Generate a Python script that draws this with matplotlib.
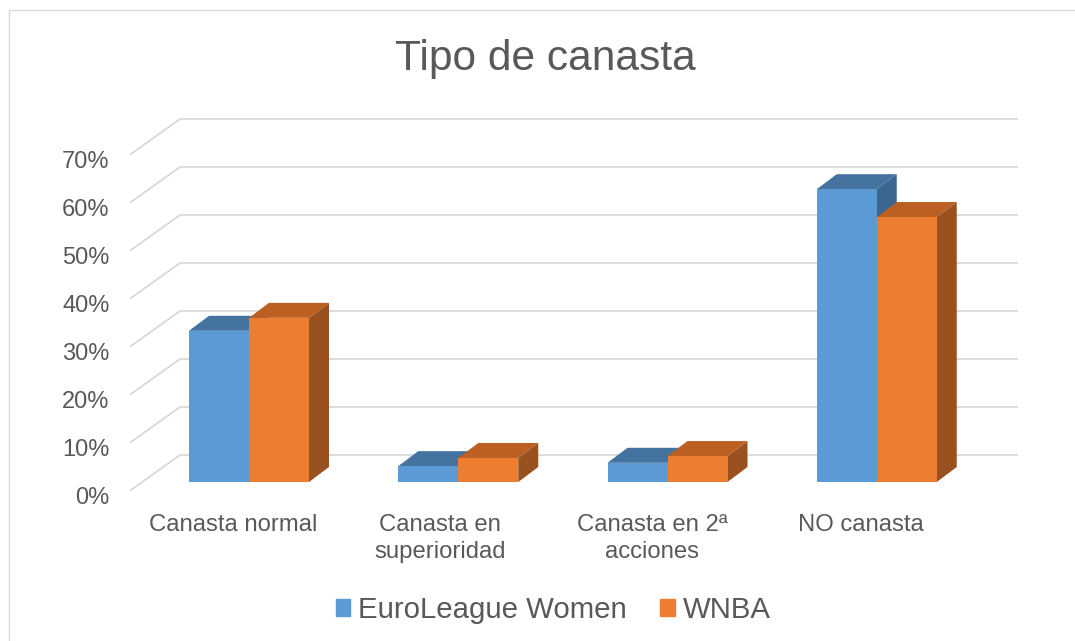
import matplotlib
matplotlib.use('Agg')
import matplotlib.pyplot as plt
from matplotlib.patches import Polygon, Rectangle
from matplotlib.transforms import ScaledTranslation

categories = ['Canasta normal', 'Canasta en\nsuperioridad', 'Canasta en 2ª\nacciones', 'NO canasta']
euroleague = [31.5, 3.3, 4.0, 61.0]
wnba = [34.2, 5.0, 5.4, 55.2]
y_ticks = [0, 10, 20, 30, 40, 50, 60, 70]
y_labels = ['0%', '10%', '20%', '30%', '40%', '50%', '60%', '70%']

W, H = 1075, 641
plt.rcParams['font.family'] = ['Liberation Sans', 'DejaVu Sans']
GREY = '#595959'
GRID = '#d9d9d9'

fig = plt.figure(figsize=(W / 100, H / 100), dpi=100)

# chart frame, cut off by the bottom and right of the image
fig.add_artist(Rectangle((9 / W, -0.1), 1.1, 1.1 - 10 / H, transform=fig.transFigure,
                         fill=False, edgecolor='#d9d9d9', linewidth=1))

# front plane of the fake 3d box, 131..968 px wide, 0% at y=490, 48 px per 10%
ax = fig.add_axes([131 / W, 1 - 490 / H, 837 / W, 336 / H])
ax.set_xlim(0, 4)
ax.set_ylim(0, 70)
ax.patch.set_visible(False)
for s in ax.spines.values():
    s.set_visible(False)

px_x = 4 / 837
px_y = 70 / 336
box_dx, box_dy = 49 * px_x, 35 * px_y     # depth of the whole box
bar_dx, bar_dy = 20 * px_x, 15 * px_y     # depth of one bar
off_x, off_y = 11 * px_x, 8 * px_y        # bar front sits this far behind the box front
bar_w = 60 * px_x
gap = 58 * px_x - off_x


def poly(pts, color, z):
    ax.add_patch(Polygon(pts, closed=True, facecolor=color, edgecolor='none', clip_on=False, zorder=z))


for t in y_ticks:
    ax.plot([0, box_dx, 4 + box_dx], [t, t + box_dy, t + box_dy], color=GRID, lw=1.3,
            clip_on=False, zorder=1)


def draw_bar(x, v, front, top, side, z):
    x0 = x + off_x
    x1 = x0 + bar_w
    y0 = off_y
    y1 = off_y + v
    poly([(x1, y0), (x1 + bar_dx, y0 + bar_dy), (x1 + bar_dx, y1 + bar_dy), (x1, y1)], side, z)
    poly([(x0, y1), (x1, y1), (x1 + bar_dx, y1 + bar_dy), (x0 + bar_dx, y1 + bar_dy)], top, z)
    poly([(x0, y0), (x1, y0), (x1, y1), (x0, y1)], front, z + 0.1)


for i in range(len(categories)):
    draw_bar(i + gap, euroleague[i], '#5b9bd5', '#44739f', '#3a6690', 3 + i)
    draw_bar(i + gap + bar_w, wnba[i], '#ed7d31', '#bc5f22', '#98511f', 3.5 + i)

ax.set_xticks([i + 0.5 for i in range(len(categories))])
ax.set_xticklabels(categories, fontsize=17.2, color=GREY, linespacing=1.27, va='top')
ax.set_yticks(y_ticks)
ax.set_yticklabels(y_labels, fontsize=17, color=GREY)
ax.tick_params(axis='both', length=0)
ax.tick_params(axis='y', pad=15.5)
ax.tick_params(axis='x', pad=17.3)

shift = ScaledTranslation(0, -3.7 / 72, fig.dpi_scale_trans)
for lab in ax.get_yticklabels():
    lab.set_transform(lab.get_transform() + shift)
# labels sit a little left of the category centre, the second one more so
for i, lab in enumerate(ax.get_xticklabels()):
    nudge = -5 if i == 1 else -2
    lab.set_transform(lab.get_transform() + ScaledTranslation(nudge / 100, 0, fig.dpi_scale_trans))

fig.text(545 / W, 1 - 70 / H, 'Tipo de canasta', fontsize=30.6, color=GREY, ha='center', va='baseline')

handles = [Rectangle((0, 0), 1, 1, color='#5b9bd5'), Rectangle((0, 0), 1, 1, color='#ed7d31')]
fig.legend(handles, ['EuroLeague Women', 'WNBA'], loc='center', bbox_to_anchor=(553 / W, 1 - 610 / H),
           ncol=2, frameon=False, fontsize=21.2, labelcolor=GREY, handlelength=0.5, handleheight=0.5,
           handletextpad=0.25, columnspacing=1.15)

fig.savefig('out.png', dpi=100)
